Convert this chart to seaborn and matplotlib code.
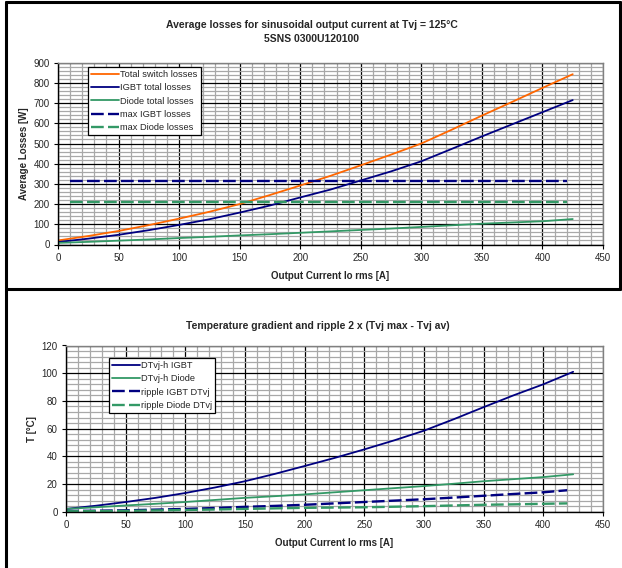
import matplotlib
matplotlib.use('Agg')
import matplotlib.pyplot as plt
from matplotlib.lines import Line2D
from matplotlib.ticker import MultipleLocator
import seaborn as sns
import pandas as pd

# Output current [A]
current = [0, 25, 50, 75, 100, 125, 150, 175, 200, 225, 250, 275, 300, 325, 350, 375, 400, 425]

# Top chart: average losses [W]
total_switch = [20, 42, 67, 96, 128, 162, 200, 245, 292, 340, 392, 445, 500, 568, 638, 706, 775, 843]
igbt_total = [12, 29, 48, 71, 97, 125, 158, 193, 233, 272, 317, 362, 412, 473, 535, 595, 655, 715]
diode_total = [8, 13, 19, 25, 32, 38, 45, 51, 58, 65, 72, 79, 87, 95, 103, 109, 115, 126]
max_range = [10, 420]
max_igbt = [315, 315]
max_diode = [208, 208]

# Bottom chart: temperature gradient and ripple [°C]
dt_igbt = [2, 4.3, 7, 10, 13.5, 17.5, 22, 27.3, 33, 38.8, 45, 51.5, 58.5, 66.8, 75.5, 84, 92, 101]
dt_diode = [2, 3.2, 4.5, 5.7, 7, 8.5, 10, 11.2, 12.5, 14, 15.5, 17, 18.5, 20.2, 22, 23.5, 25, 27]
ripple_current = [0, 25, 50, 75, 100, 125, 150, 175, 200, 225, 250, 275, 300, 325, 350, 375, 400, 420]
ripple_igbt = [0.5, 0.7, 1, 1.5, 2, 2.7, 3.5, 4.2, 5, 6, 7, 8, 9, 10.2, 11.5, 12.8, 14, 15.5]
ripple_diode = [0.3, 0.4, 0.6, 0.9, 1.2, 1.6, 2, 2.4, 2.8, 3, 3.2, 3.6, 4, 4.5, 5, 5.3, 5.7, 6]

ORANGE = '#FF6600'
NAVY = '#000080'
GREEN = '#339966'

sns.set_style('white')
plt.rcParams['font.family'] = ['Liberation Sans', 'DejaVu Sans']
plt.rcParams['font.size'] = 7

fig = plt.figure(figsize=(6.22, 5.68), dpi=100)
W, H = 622.0, 568.0

# panel frames (figure pixel coordinates converted to fractions)
def fline(x0, y0, x1, y1):
    fig.add_artist(Line2D([x0 / W, x1 / W], [1 - y0 / H, 1 - y1 / H],
                          color='black', lw=2.2, transform=fig.transFigure))

fline(6, 2, 620, 2)
fline(6, 2, 6, 568)
fline(620, 2, 620, 289)
fline(6, 289, 620, 289)

ax1 = fig.add_axes([58 / W, 1 - 244.5 / H, 545 / W, 181.8 / H])
ax2 = fig.add_axes([66 / W, 1 - 511.7 / H, 537 / W, 166.2 / H])

dash = (5.4, 1.8)

# top chart
sns.lineplot(x=current, y=total_switch, ax=ax1, color=ORANGE, lw=1.3, label='Total switch losses')
sns.lineplot(x=current, y=igbt_total, ax=ax1, color=NAVY, lw=1.3, label='IGBT total losses')
sns.lineplot(x=current, y=diode_total, ax=ax1, color=GREEN, lw=1.3, label='Diode total losses')
ax1.plot(max_range, max_igbt, color=NAVY, lw=1.7, dashes=dash, label='max IGBT losses')
ax1.plot(max_range, max_diode, color=GREEN, lw=1.7, dashes=dash, label='max Diode losses')

# bottom chart
sns.lineplot(x=current, y=dt_igbt, ax=ax2, color=NAVY, lw=1.3, label='DTvj-h IGBT')
sns.lineplot(x=current, y=dt_diode, ax=ax2, color=GREEN, lw=1.3, label='DTvj-h Diode')
ax2.plot(ripple_current, ripple_igbt, color=NAVY, lw=1.7, dashes=dash, label='ripple IGBT DTvj')
ax2.plot(ripple_current, ripple_diode, color=GREEN, lw=1.7, dashes=dash, label='ripple Diode DTvj')


def style_axes(ax, ymax, ymajor, yminor, ylabel):
    ax.set_xlim(0, 450)
    ax.set_ylim(0, ymax)
    ax.xaxis.set_major_locator(MultipleLocator(50))
    ax.xaxis.set_minor_locator(MultipleLocator(10))
    ax.yaxis.set_major_locator(MultipleLocator(ymajor))
    ax.yaxis.set_minor_locator(MultipleLocator(yminor))
    ax.grid(which='minor', color='#a8a8a8', lw=0.9)
    ax.grid(which='major', color='black', lw=0.9)
    ax.set_axisbelow(True)
    ax.tick_params(which='major', direction='out', length=3, width=0.8,
                   color='black', labelsize=7, pad=3, bottom=True, left=True)
    ax.tick_params(which='minor', length=0)
    for side in ['left', 'bottom']:
        ax.spines[side].set_color('black')
        ax.spines[side].set_linewidth(1)
    for side in ['top', 'right']:
        ax.spines[side].set_color('#808080')
        ax.spines[side].set_linewidth(1)
    ax.set_xlabel('Output Current Io rms [A]', fontsize=7, fontweight='bold', labelpad=6)
    ax.set_ylabel(ylabel, fontsize=7, fontweight='bold', labelpad=3)


style_axes(ax1, 900, 100, 20, 'Average Losses [W]')
style_axes(ax2, 120, 20, 4, 'T [°C]')

for ax, anchor in [(ax1, (88, 67)), (ax2, (109, 358))]:
    leg = ax.legend(loc='upper left', bbox_to_anchor=(anchor[0] / W, 1 - anchor[1] / H),
                    bbox_transform=fig.transFigure, fontsize=6.7, frameon=True, fancybox=False,
                    shadow=False, handlelength=3.0, handletextpad=0.1, labelspacing=0.45,
                    borderpad=0.35, borderaxespad=0)
    frame = leg.get_frame()
    frame.set_edgecolor('black')
    frame.set_linewidth(0.9)
    frame.set_alpha(1)

fig.text(312 / W, 1 - 25 / H, 'Average losses for sinusoidal output current at Tvj = 125°C',
         ha='center', va='center', fontsize=7.5, fontweight='bold')
fig.text(312 / W, 1 - 39 / H, '5SNS 0300U120100',
         ha='center', va='center', fontsize=7.5, fontweight='bold')
fig.text(318 / W, 1 - 326 / H, 'Temperature gradient and ripple 2 x (Tvj max - Tvj av)',
         ha='center', va='center', fontsize=7.5, fontweight='bold')

fig.savefig('out.png', dpi=100)
plt.close(fig)
